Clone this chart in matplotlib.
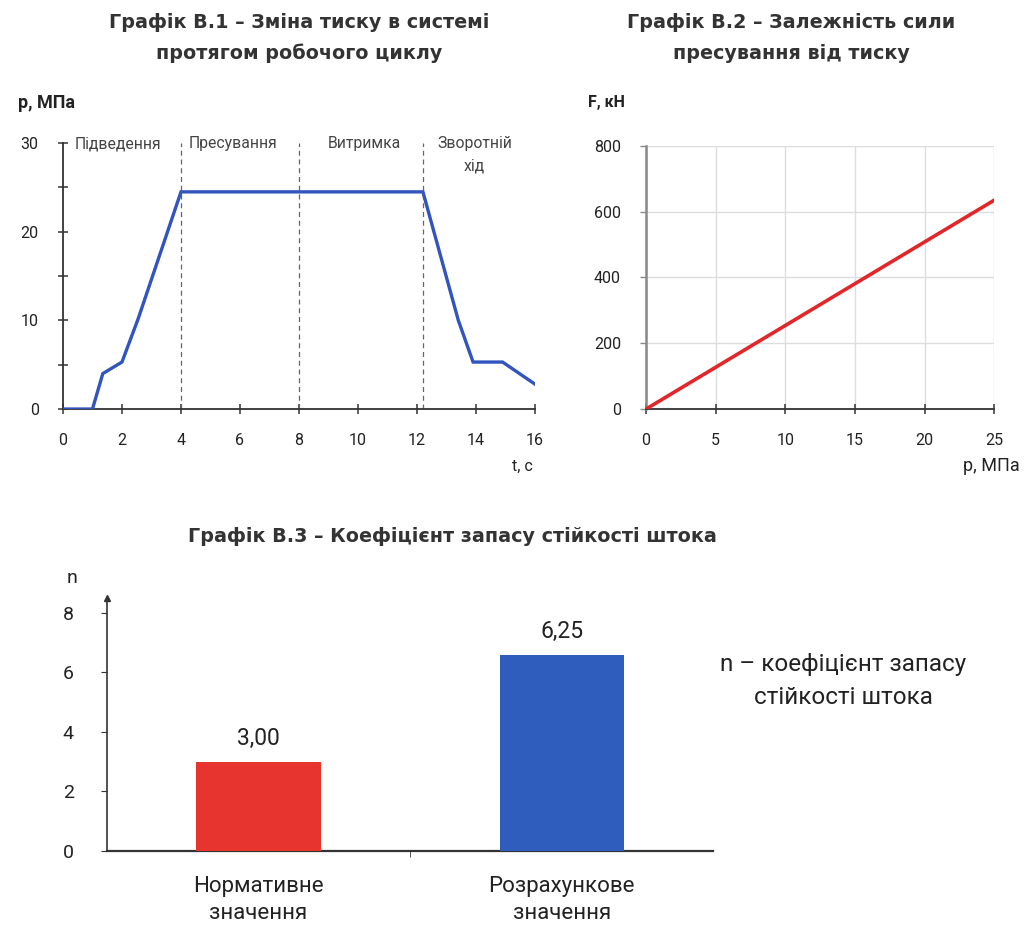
import numpy as np
import matplotlib
matplotlib.use("Agg")
import matplotlib.pyplot as plt

plt.rcParams['font.family'] = ['Roboto', 'DejaVu Sans']

# -------- DATA --------
# chart 1: pressure over the working cycle
t_s = [0, 1.0, 1.35, 2.0, 2.55, 4.0, 12.2, 13.4, 13.9, 14.9, 16.0]
p_mpa = [0, 0, 4.0, 5.3, 10.2, 24.5, 24.5, 10.0, 5.3, 5.3, 2.8]
phase_bounds = [4, 8, 12.2]
phase_names = ["Підведення", "Пресування", "Витримка", "Зворотній\nхід"]
phase_x = [1.85, 5.75, 10.2, 13.95]

# chart 2: pressing force vs pressure
p_line = [0, 25]
f_line = [0, 635]

# chart 3: rod stability factor
bar_names = ["Нормативне\nзначення", "Розрахункове\nзначення"]
bar_heights = [3.0, 6.6]
bar_labels = ["3,00", "6,25"]

BLUE = "#3154BE"
RED = "#E2272B"
BAR_RED = "#E8342F"
BAR_BLUE = "#2F5DBD"
DARK = "#333333"
TITLE_FONT = dict(family=['DejaVu Sans'], fontweight='bold', fontsize=13.8, color="#333333")

fig = plt.figure(figsize=(10.24, 9.33), dpi=100)

# -------- CHART 1 --------
ax1 = fig.add_axes([0.0615, 0.5616, 0.461, 0.285])
ax1.plot(t_s, p_mpa, color=BLUE, lw=2.4, solid_joinstyle='miter', zorder=3)
for b in phase_bounds:
    ax1.axvline(b, color="#666666", lw=0.9, ls=(0, (4, 3)), zorder=2)
for name, x in zip(phase_names, phase_x):
    ax1.text(x, 30.8, name, ha='center', va='top', fontsize=11.3, color="#444444",
             linespacing=1.6)
ax1.set_xlim(0, 16)
ax1.set_ylim(0, 30)
ax1.set_xticks(np.arange(0, 17, 2))
ax1.set_yticks([0, 10, 20, 30])
ax1.set_yticks([5, 15, 25], minor=True)
for s in ['top', 'right']:
    ax1.spines[s].set_visible(False)
for s in ['left', 'bottom']:
    ax1.spines[s].set_color(DARK)
    ax1.spines[s].set_linewidth(1.3)
ax1.tick_params(which='both', direction='inout', length=7, width=1.1, color=DARK,
                labelsize=11.5, labelcolor="#222222")
ax1.tick_params(axis='y', pad=14)
ax1.tick_params(axis='x', pad=14)
fig.text(18 / 1024, 1 - 103 / 933, "p, МПа", fontsize=13, fontweight='bold',
         color="#222222", va='center')
fig.text(533 / 1024, 1 - 466 / 933, "t, с", fontsize=11.5, color="#222222",
         ha='right', va='center')
fig.text(299 / 1024, 1 - 38 / 933,
         "Графік В.1 – Зміна тиску в системі\nпротягом робочого циклу",
         ha='center', va='center', linespacing=1.75, **TITLE_FONT)

# -------- CHART 2 --------
ax2 = fig.add_axes([0.6309, 0.5616, 0.340, 0.282])
ax2.plot(p_line, f_line, color=RED, lw=2.6, zorder=3)
ax2.set_xlim(0, 25)
ax2.set_ylim(0, 800)
ax2.set_xticks(np.arange(0, 26, 5))
ax2.set_yticks(np.arange(0, 801, 200))
ax2.grid(True, color="#DDDDDD", lw=1.0)
for s in ['top', 'right']:
    ax2.spines[s].set_visible(False)
ax2.spines['left'].set_color("#888888")
ax2.spines['left'].set_linewidth(1.8)
ax2.spines['bottom'].set_color(DARK)
ax2.spines['bottom'].set_linewidth(1.3)
ax2.tick_params(axis='x', direction='inout', length=7, width=1.1, color=DARK,
                labelsize=11.5, labelcolor="#222222", pad=14)
ax2.tick_params(axis='y', direction='out', length=4, width=1.0, color="#888888",
                labelsize=11.5, labelcolor="#222222", pad=14)
fig.text(588 / 1024, 1 - 103 / 933, "F, кН", fontsize=11.5, fontweight='bold',
         color="#222222", va='center')
fig.text(1020 / 1024, 1 - 466 / 933, "р, МПа", fontsize=13, color="#222222",
         ha='right', va='center')
fig.text(791 / 1024, 1 - 38 / 933,
         "Графік В.2 – Залежність сили\nпресування від тиску",
         ha='center', va='center', linespacing=1.75, **TITLE_FONT)

# -------- CHART 3 --------
ax3 = fig.add_axes([0.1045, 0.0879, 0.592, 0.2551 * 8.5 / 8])
xs = np.arange(len(bar_names))
bars = ax3.bar(xs, bar_heights, width=0.41, color=[BAR_RED, BAR_BLUE], zorder=3)
for rect, lab in zip(bars, bar_labels):
    ax3.text(rect.get_x() + rect.get_width() / 2, rect.get_height() + 0.38, lab,
             ha='center', va='bottom', fontsize=16.5, color="#222222")
ax3.set_xlim(-0.5, 1.5)
ax3.set_ylim(0, 8.5)
ax3.set_yticks(np.arange(0, 9, 2))
ax3.set_xticks(xs)
ax3.set_xticklabels(bar_names, fontsize=16, linespacing=1.35)
ax3.set_xticks([0.5], minor=True)
for s in ['top', 'right']:
    ax3.spines[s].set_visible(False)
ax3.spines['left'].set_color(DARK)
ax3.spines['bottom'].set_color(DARK)
ax3.spines['left'].set_linewidth(1.2)
ax3.spines['bottom'].set_linewidth(1.6)
ax3.tick_params(axis='x', which='major', length=0, pad=18, labelcolor="#222222")
ax3.tick_params(axis='x', which='minor', direction='out', length=4, color=DARK)
ax3.tick_params(axis='y', direction='out', length=4, color=DARK, labelsize=14,
                labelcolor="#222222", pad=20)
ax3.plot([0], [1], marker='^', ms=5, color=DARK, transform=ax3.transAxes,
         clip_on=False)
fig.text(72 / 1024, 1 - 578 / 933, "n", fontsize=14, color="#222222",
         ha='center', va='center')
fig.text(452 / 1024, 1 - 537 / 933,
         "Графік В.3 – Коефіцієнт запасу стійкості штока",
         ha='center', va='center', **TITLE_FONT)
fig.text(843 / 1024, 1 - 681 / 933, "n – коефіцієнт запасу\nстійкості штока",
         ha='center', va='center', fontsize=17.5, color="#222222", linespacing=1.55)

fig.savefig("out.png", dpi=100, facecolor='white')
